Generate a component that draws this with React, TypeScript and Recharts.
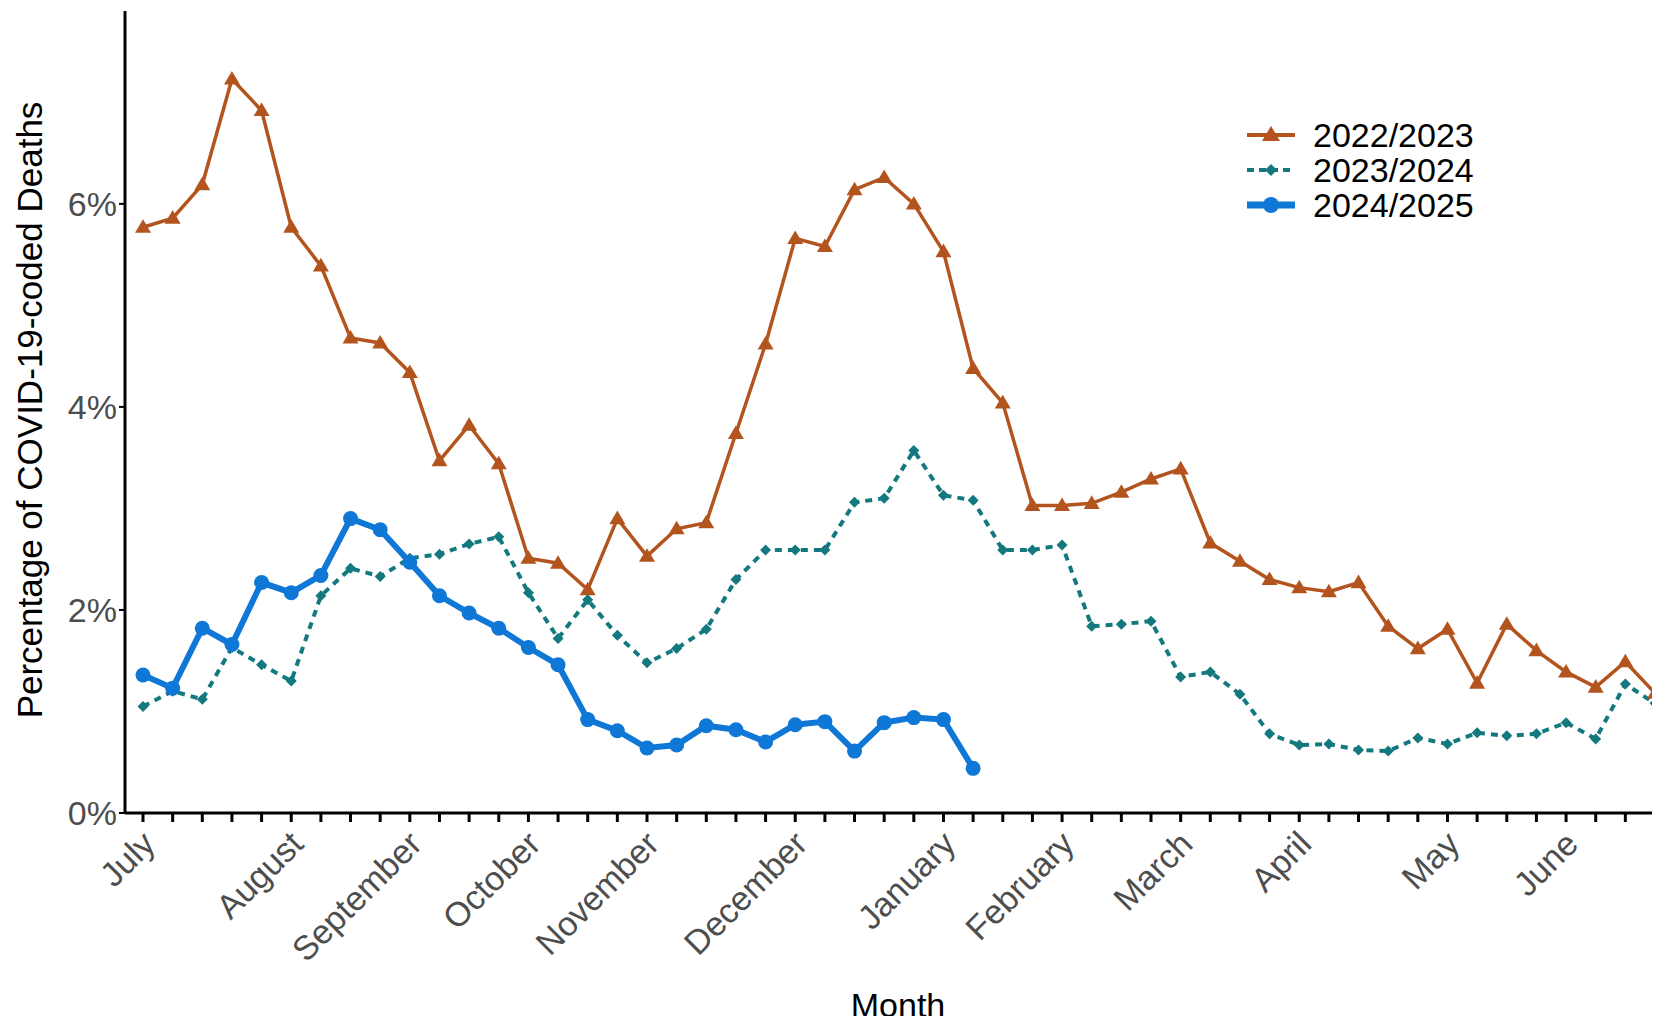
import React from "react";
import { LineChart, Line, XAxis, YAxis } from "recharts";

const monthLabels: Record<number, string> = {
  0: "July", 5: "August", 9: "September", 13: "October", 17: "November", 22: "December",
  27: "January", 31: "February", 35: "March", 39: "April", 44: "May", 48: "June",
};

const s2223 = [5.77,5.86,6.19,7.23,6.92,5.77,5.39,4.68,4.63,4.34,3.47,3.82,3.44,2.51,2.46,2.2,2.9,2.53,2.8,2.86,3.74,4.62,5.66,5.58,6.14,6.26,6.0,5.53,4.38,4.04,3.03,3.03,3.05,3.16,3.29,3.39,2.66,2.48,2.3,2.22,2.18,2.27,1.84,1.62,1.81,1.28,1.86,1.6,1.39,1.24,1.49,1.18];
const s2324 = [1.05,1.2,1.12,1.63,1.46,1.3,2.14,2.41,2.33,2.51,2.55,2.65,2.72,2.17,1.72,2.1,1.75,1.48,1.62,1.81,2.3,2.59,2.59,2.59,3.06,3.1,3.57,3.13,3.08,2.59,2.59,2.64,1.84,1.86,1.89,1.34,1.39,1.17,0.78,0.67,0.68,0.62,0.61,0.74,0.68,0.79,0.76,0.78,0.89,0.73,1.27,1.08];
const s2425 = [1.36,1.23,1.82,1.66,2.27,2.17,2.34,2.9,2.79,2.47,2.14,1.97,1.82,1.63,1.46,0.92,0.81,0.64,0.67,0.86,0.82,0.7,0.87,0.9,0.61,0.89,0.94,0.92,0.44];
const yTicks = [0, 2, 4, 6];

const data = s2223.map((v, i) => ({
  w: i,
  a: v,
  b: s2324[i],
  c: i < s2425.length ? s2425[i] : null,
}));

const C1 = "#b3541e";
const C2 = "#13797f";
const C3 = "#0f78d6";
const FONT = "'Liberation Sans', Arial, sans-serif";

const Tri = (p: any) => {
  const { cx, cy } = p;
  if (cx == null || cy == null) return null;
  const s = 8;
  return <polygon key={p.index} points={`${cx},${cy - s} ${cx - s},${cy + s * 0.7} ${cx + s},${cy + s * 0.7}`} fill={C1} />;
};
const Dia = (p: any) => {
  const { cx, cy } = p;
  if (cx == null || cy == null) return null;
  const s = 5.5;
  return <polygon key={p.index} points={`${cx},${cy - s} ${cx + s},${cy} ${cx},${cy + s} ${cx - s},${cy}`} fill={C2} />;
};
const Circ = (p: any) => {
  const { cx, cy } = p;
  if (cx == null || cy == null) return null;
  return <circle key={p.index} cx={cx} cy={cy} r={7.5} fill={C3} />;
};

const XTick = (p: any) => {
  const { x, y, payload } = p;
  const lab = monthLabels[payload.value];
  if (!lab) return null;
  return (
    <text x={x + 14} y={y + 22} transform={`rotate(-45 ${x + 14} ${y + 22})`} textAnchor="end"
      fontSize={34} fill="#4d4d4d" fontFamily={FONT}>{lab}</text>
  );
};

export default function App() {
  return (
    <div style={{ position: "relative", width: 1660, height: 1024, margin: -8, background: "#fff", fontFamily: FONT }}>
      <LineChart width={1660} height={1024} data={data} margin={{ top: 11, right: 5, bottom: 0, left: 50 }}>
        <XAxis dataKey="w" type="category" interval={0} height={211} padding={{ left: 18, right: 0 }}
          axisLine={{ stroke: "#000", strokeWidth: 3 }} tickLine={{ stroke: "#000", strokeWidth: 3 }} tickSize={9}
          tick={<XTick />} />
        <YAxis domain={[0, 7.9]} ticks={yTicks} width={75} tickFormatter={(v) => `${v}%`}
          axisLine={{ stroke: "#000", strokeWidth: 3 }} tickLine={{ stroke: "#000", strokeWidth: 2 }} tickSize={6}
          tick={{ fontSize: 34, fill: "#4d4d4d", fontFamily: FONT }} />
        <Line dataKey="a" stroke={C1} strokeWidth={3.5} dot={<Tri />} isAnimationActive={false} />
        <Line dataKey="b" stroke={C2} strokeWidth={4} strokeDasharray="7 6" dot={<Dia />} isAnimationActive={false} />
        <Line dataKey="c" stroke={C3} strokeWidth={6} dot={<Circ />} isAnimationActive={false} connectNulls={false} />
      </LineChart>
      <div style={{ position: "absolute", left: 30, top: 410, transform: "translate(-50%,-50%) rotate(-90deg)", whiteSpace: "nowrap", fontSize: 35, color: "#000" }}>
        Percentage of COVID-19-coded Deaths
      </div>
      <div style={{ position: "absolute", left: 898, top: 1005, transform: "translate(-50%,-50%)", fontSize: 34, color: "#000" }}>Month</div>
      <svg style={{ position: "absolute", left: 1245, top: 115 }} width={260} height={110}>
        {[["2022/2023", C1, "tri"], ["2023/2024", C2, "dia"], ["2024/2025", C3, "circ"]].map(([l, c, k], i) => {
          const y = 20 + i * 35;
          return (
            <g key={l}>
              <line x1={2} x2={50} y1={y} y2={y} stroke={c} strokeWidth={k === "circ" ? 7 : 4} strokeDasharray={k === "dia" ? "7 5" : undefined} />
              {k === "tri" && <polygon points={`26,${y - 9} 17,${y + 6} 35,${y + 6}`} fill={c} />}
              {k === "dia" && <polygon points={`26,${y - 6} 32,${y} 26,${y + 6} 20,${y}`} fill={c} />}
              {k === "circ" && <circle cx={26} cy={y} r={8} fill={c} />}
              <text x={68} y={y + 12} fontSize={34} fill="#000" fontFamily={FONT}>{l}</text>
            </g>
          );
        })}
      </svg>
    </div>
  );
}
